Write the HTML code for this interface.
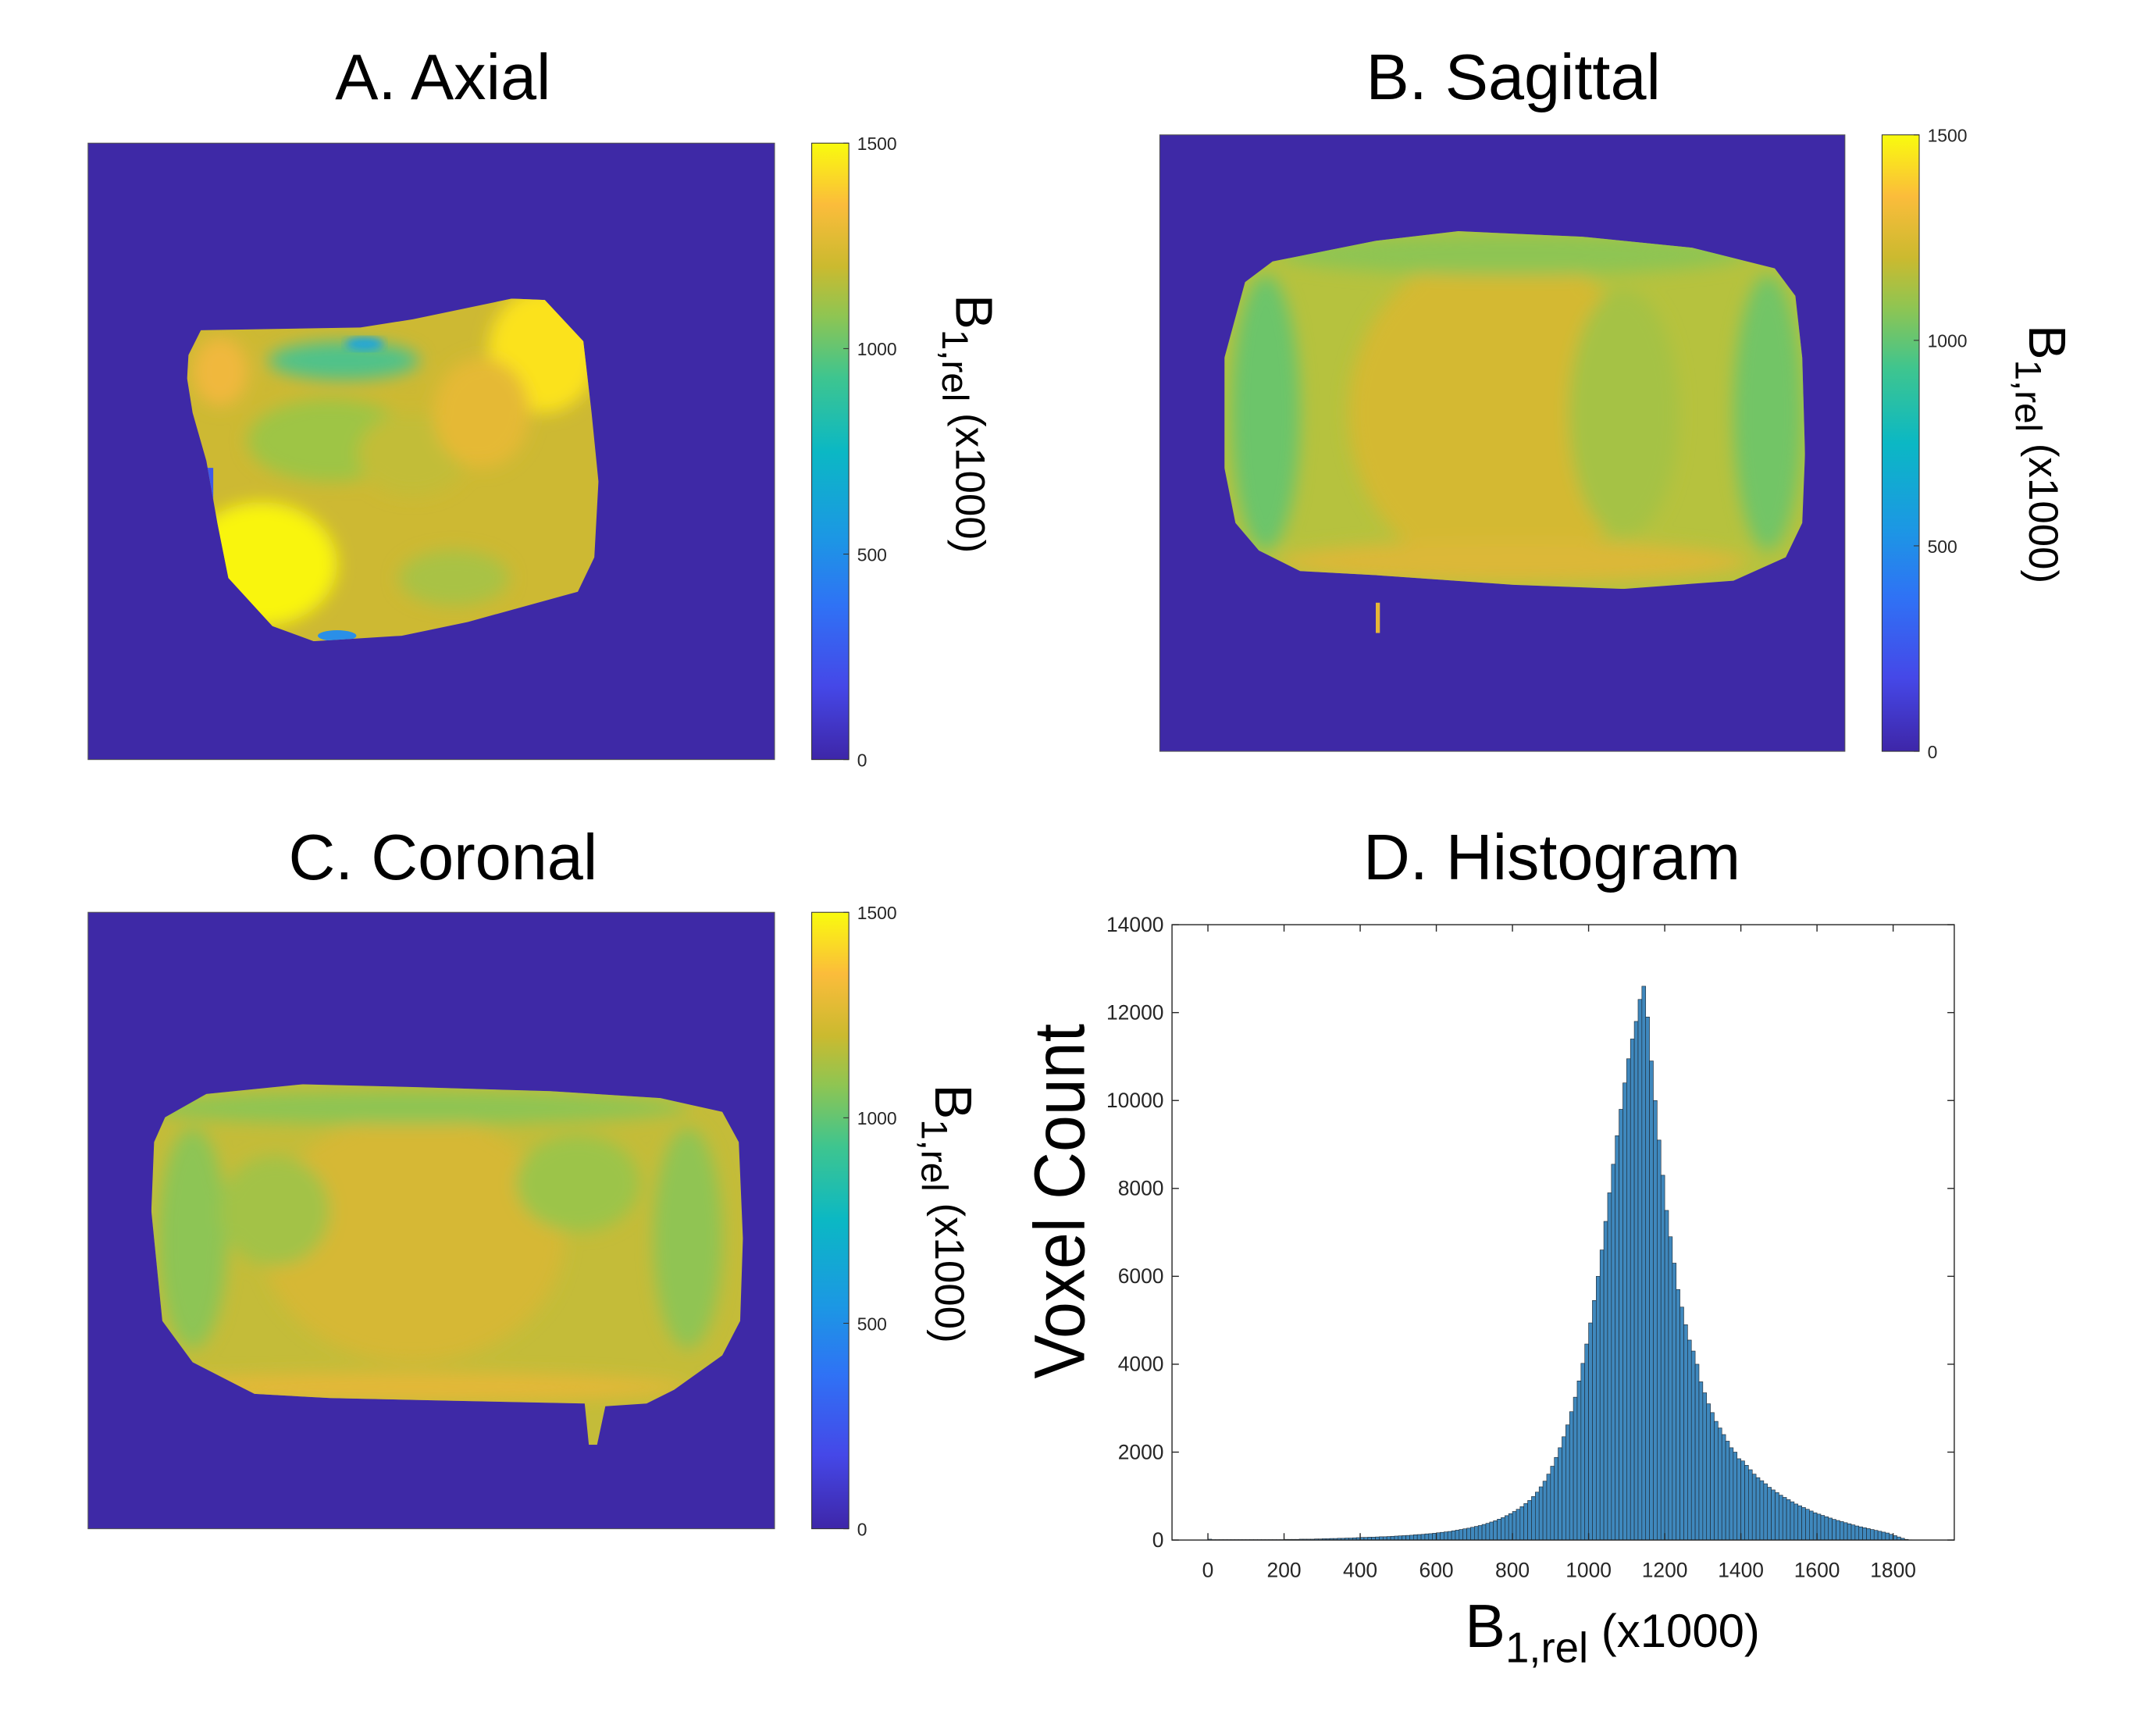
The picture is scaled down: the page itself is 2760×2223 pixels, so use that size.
<!DOCTYPE html>
<html><head><meta charset="utf-8"><style>
html,body{margin:0;padding:0;background:#fff;}
svg{display:block;}
text{font-family:"Liberation Sans",Arial,sans-serif;}
</style></head><body>
<svg id="fig" width="2760" height="2223" viewBox="0 0 1566.4 1261.6" xmlns="http://www.w3.org/2000/svg">
<defs>
<linearGradient id="parula" x1="0" y1="1" x2="0" y2="0">
<stop offset="0" stop-color="#3e26a8"/><stop offset="0.12" stop-color="#4548e8"/><stop offset="0.25" stop-color="#2f72f5"/>
<stop offset="0.36" stop-color="#1c97e4"/><stop offset="0.5" stop-color="#0bb8c4"/><stop offset="0.62" stop-color="#3ec58f"/>
<stop offset="0.72" stop-color="#8fc552"/><stop offset="0.8" stop-color="#cbba2f"/><stop offset="0.9" stop-color="#fbbc3b"/>
<stop offset="1" stop-color="#f9fb0e"/></linearGradient>
<filter id="blur6"><feGaussianBlur stdDeviation="6"/></filter>
<filter id="blur3"><feGaussianBlur stdDeviation="3"/></filter>
<clipPath id="clipA"><path d="M137,258 L146,240 L262,238 L300,232 L372,217 L396,218 L424,248 L430,300 L435,350 L432,405 L420,430 L340,452 L292,462 L228,466 L198,455 L166,420 L158,380 L150,335 L140,300 L136,275 Z"/></clipPath>
<clipPath id="clipB"><path d="M905,205 L925,190 L1000,175 L1060,168 L1150,172 L1230,180 L1290,195 L1305,215 L1310,260 L1312,330 L1310,380 L1298,405 L1260,422 L1180,428 L1100,425 L1000,418 L945,415 L915,400 L898,380 L890,340 L890,260 Z"/></clipPath>
<clipPath id="clipC"><path d="M120,812 L150,795 L220,788 L300,790 L400,793 L480,798 L525,808 L537,830 L540,900 L538,960 L525,985 L490,1010 L470,1020 L440,1022 L434,1050 L428,1050 L425,1020 L330,1018 L240,1016 L185,1013 L140,990 L118,960 L110,880 L112,830 Z"/></clipPath>
</defs>
<rect width="1566.4" height="1261.6" fill="#fff"/>

<g>
<text x="322" y="72" font-size="47" text-anchor="middle">A. Axial</text>
<rect x="64" y="104" width="499" height="448" fill="#3e29a6" stroke="#555" stroke-width="0.6"/>
<g clip-path="url(#clipA)">
<rect x="130" y="210" width="310" height="260" fill="#cdb933"/>
<g filter="url(#blur6)">
<ellipse cx="190" cy="410" rx="55" ry="45" fill="#f9f50f"/>
<ellipse cx="395" cy="255" rx="40" ry="45" fill="#fbe21e"/>
<ellipse cx="240" cy="320" rx="60" ry="30" fill="#9ec545"/>
<ellipse cx="250" cy="262" rx="55" ry="14" fill="#4fc28a"/>
<ellipse cx="300" cy="330" rx="40" ry="30" fill="#c2bd38"/>
<ellipse cx="350" cy="300" rx="35" ry="40" fill="#e5b935"/>
<ellipse cx="160" cy="270" rx="20" ry="25" fill="#f0b83c"/>
<ellipse cx="330" cy="420" rx="40" ry="20" fill="#a9c245"/>
</g>
<ellipse cx="265" cy="250" rx="14" ry="5" fill="#22a6d8" filter="url(#blur3)"/>
<rect x="149" y="340" width="6" height="30" fill="#3f5ae8"/>
<ellipse cx="245" cy="462" rx="14" ry="4" fill="#2a8fe8"/>
</g>
</g>

<g>
<text x="1100" y="72" font-size="47" text-anchor="middle">B. Sagittal</text>
<rect x="843" y="98" width="498" height="448" fill="#3e29a6" stroke="#555" stroke-width="0.6"/>
<g clip-path="url(#clipB)">
<rect x="880" y="160" width="440" height="280" fill="#b6c23e"/>
<g filter="url(#blur6)">
<ellipse cx="1090" cy="300" rx="110" ry="120" fill="#d4b933"/>
<ellipse cx="920" cy="300" rx="25" ry="100" fill="#6cc56a"/>
<ellipse cx="1285" cy="300" rx="25" ry="100" fill="#72c566"/>
<ellipse cx="1100" cy="185" rx="170" ry="15" fill="#8ec553"/>
<ellipse cx="1100" cy="408" rx="170" ry="15" fill="#dcb837"/>
<ellipse cx="1180" cy="300" rx="40" ry="90" fill="#a5c244"/>
</g>
</g>
<rect x="1000" y="438" width="3" height="22" fill="#e6b637"/>
</g>

<g>
<text x="322" y="639" font-size="47" text-anchor="middle">C. Coronal</text>
<rect x="64" y="663" width="499" height="448" fill="#3e29a6" stroke="#555" stroke-width="0.6"/>
<g clip-path="url(#clipC)">
<rect x="100" y="780" width="450" height="280" fill="#c4bc39"/>
<g filter="url(#blur6)">
<ellipse cx="300" cy="900" rx="110" ry="90" fill="#d6b834"/>
<ellipse cx="140" cy="900" rx="25" ry="80" fill="#8dc554"/>
<ellipse cx="500" cy="900" rx="25" ry="80" fill="#90c452"/>
<ellipse cx="300" cy="805" rx="200" ry="12" fill="#8ec553"/>
<ellipse cx="200" cy="880" rx="40" ry="40" fill="#a3c247"/>
<ellipse cx="420" cy="860" rx="45" ry="35" fill="#9cc44a"/>
<ellipse cx="300" cy="1008" rx="200" ry="10" fill="#e4b838"/>
</g>
</g>
</g>

<g id="colorbars"></g>

<g>
<text x="1128" y="639" font-size="47" text-anchor="middle">D. Histogram</text>
<g id="hist"></g>
<text x="0" y="0" font-size="52" text-anchor="middle" textLength="258" lengthAdjust="spacingAndGlyphs" transform="translate(788,873) rotate(-90)">Voxel Count</text>
<text x="1172" y="1197" font-size="44" text-anchor="middle">B<tspan font-size="31" dy="11">1,rel</tspan><tspan font-size="34" dy="-11"> (x1000)</tspan></text>
</g>
</svg>
<script>
const binStarts = [0,10,20,30,40,50,60,70,80,90,100,110,120,130,140,150,160,170,180,190,200,210,220,230,240,250,260,270,280,290,300,310,320,330,340,350,360,370,380,390,400,410,420,430,440,450,460,470,480,490,500,510,520,530,540,550,560,570,580,590,600,610,620,630,640,650,660,670,680,690,700,710,720,730,740,750,760,770,780,790,800,810,820,830,840,850,860,870,880,890,900,910,920,930,940,950,960,970,980,990,1000,1010,1020,1030,1040,1050,1060,1070,1080,1090,1100,1110,1120,1130,1140,1150,1160,1170,1180,1190,1200,1210,1220,1230,1240,1250,1260,1270,1280,1290,1300,1310,1320,1330,1340,1350,1360,1370,1380,1390,1400,1410,1420,1430,1440,1450,1460,1470,1480,1490,1500,1510,1520,1530,1540,1550,1560,1570,1580,1590,1600,1610,1620,1630,1640,1650,1660,1670,1680,1690,1700,1710,1720,1730,1740,1750,1760,1770,1780,1790,1800,1810,1820,1830,1840,1850];
const voxelCounts = [20,10,10,10,10,10,10,10,10,10,
10,10,10,10,10,10,10,10,10,10,
15,15,15,15,20,20,20,20,25,25,
30,30,35,35,40,40,45,45,50,55,
60,60,65,65,70,75,75,80,85,90,
95,100,105,110,120,125,130,140,145,155,
165,175,185,195,210,225,240,255,270,290,
310,330,355,380,410,440,475,510,555,600,
650,700,760,830,900,990,1090,1210,1340,1500,
1680,1880,2100,2350,2620,2920,3250,3620,4020,4460,
4940,5450,6000,6600,7250,7900,8550,9200,9800,10400,
10950,11400,11800,12300,12600,11900,10900,10000,9100,8300,
7500,6900,6300,5700,5300,4900,4550,4300,4000,3600,
3350,3100,2900,2700,2550,2400,2250,2100,2000,1850,
1800,1700,1600,1500,1420,1350,1280,1200,1140,1080,
1020,970,920,870,820,780,740,700,660,620,
590,560,530,500,470,445,420,395,370,345,
320,300,280,260,240,220,200,180,160,130,
100,70,40,15,5,0];
const binWidth = 10;
const xTicks = [0,200,400,600,800,1000,1200,1400,1600,1800];
const yTicks = [0,2000,4000,6000,8000,10000,12000,14000];
const cbTicks = [0,500,1000,1500];

const NS = "http://www.w3.org/2000/svg";
function mk(tag, attrs, parent){const e=document.createElementNS(NS,tag);for(const k in attrs)e.setAttribute(k,attrs[k]);parent.appendChild(e);return e;}

const AX = {l:851.9, r:1420.5, t:672, b:1119.2};
const x0px = 878, pxPerUnit = 0.2767;
function xScale(v){return x0px + v*pxPerUnit;}
function yScale(v){return AX.b - (v/14000)*(AX.b-AX.t);}
const hist = document.getElementById('hist');
mk('rect',{x:AX.l,y:AX.t,width:AX.r-AX.l,height:AX.b-AX.t,fill:'#fff'},hist);
for(let i=0;i<voxelCounts.length;i++){
  const x1=xScale(binStarts[i]), x2=xScale(binStarts[i]+binWidth), y=yScale(voxelCounts[i]);
  const bar = mk('rect',{x:x1,y:y,width:x2-x1,height:AX.b-y,fill:'#3f88bd',stroke:'#1c2630','stroke-width':0.35},hist);
  
  
}
const frame = mk('rect',{x:AX.l,y:AX.t,width:AX.r-AX.l,height:AX.b-AX.t,fill:'none',stroke:'#262626','stroke-width':0.8},hist);


xTicks.forEach(v=>{
  const x=xScale(v);
  mk('line',{x1:x,y1:AX.b,x2:x,y2:AX.b-5,stroke:'#262626','stroke-width':0.8},hist);
  mk('line',{x1:x,y1:AX.t,x2:x,y2:AX.t+5,stroke:'#262626','stroke-width':0.8},hist);
  const t=mk('text',{x:x,y:AX.b+27,'font-size':15,'text-anchor':'middle',fill:'#262626'},hist);
  t.textContent=v;
  
  
});
yTicks.forEach(v=>{
  const y=yScale(v);
  mk('line',{x1:AX.l,y1:y,x2:AX.l+5,y2:y,stroke:'#262626','stroke-width':0.8},hist);
  mk('line',{x1:AX.r,y1:y,x2:AX.r-5,y2:y,stroke:'#262626','stroke-width':0.8},hist);
  const t=mk('text',{x:AX.l-6,y:y+5,'font-size':15,'text-anchor':'end',fill:'#262626'},hist);
  t.textContent=v;
  
  
});

const cbs=[{x:590,t:104,b:552,lx:695,ly:308},{x:1368,t:98,b:546,lx:1475,ly:330},{x:590,t:663,b:1111,lx:680,ly:882}];
const cbg=document.getElementById('colorbars');
cbs.forEach(c=>{
  const r=mk('rect',{x:c.x,y:c.t,width:27,height:c.b-c.t,fill:'url(#parula)',stroke:'#333','stroke-width':0.6},cbg);
  
  
  cbTicks.forEach(v=>{
    const y=c.b-(v/1500)*(c.b-c.t);
    mk('line',{x1:c.x+27,y1:y,x2:c.x+23,y2:y,stroke:'#333','stroke-width':0.6},cbg);
    const t=mk('text',{x:c.x+33,y:y+5,'font-size':13,fill:'#262626'},cbg);
    t.textContent=v;
    
    
  });
  const lab=mk('text',{x:0,y:0,'font-size':38,'text-anchor':'middle',transform:'translate('+c.lx+','+c.ly+') rotate(90)'},cbg);
  
  
  lab.textContent='B';
  const s1=mk('tspan',{'font-size':27,dy:10},lab); s1.textContent='1,rel';
  const s2=mk('tspan',{'font-size':30,dy:-10},lab); s2.textContent=' (x1000)';
});
</script>
</body></html>
